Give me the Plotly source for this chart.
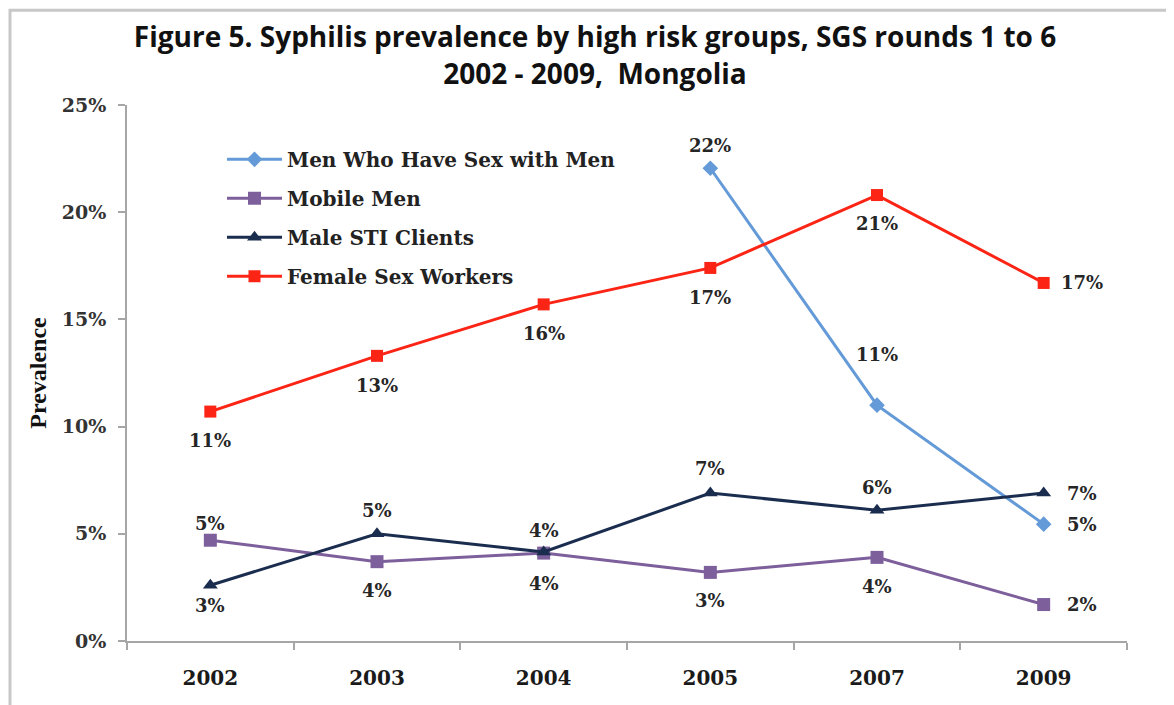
import plotly.graph_objects as go

years = ["2002", "2003", "2004", "2005", "2007", "2009"]

msm = [None, None, None, 0.2205, 0.110, 0.0545]
mobile = [0.047, 0.037, 0.041, 0.032, 0.039, 0.017]
sti = [0.026, 0.050, 0.0415, 0.069, 0.061, 0.069]
fsw = [0.107, 0.133, 0.157, 0.174, 0.208, 0.167]

series_names = ["Men Who Have Sex with Men", "Mobile Men", "Male STI Clients", "Female Sex Workers"]
series_values = [msm, mobile, sti, fsw]
colors = ["#649ad8", "#7d5f9c", "#1b2d4f", "#fb2415"]
symbols = ["diamond", "square", "triangle-up", "square"]
msizes = [12, 13, 13, 12]

# label offsets (xshift, yshift) in pixels per point (positive yshift = up)
offsets = [
    [None, None, None, (0, 23), (0, 51), (38, 0)],
    [(0, 17), (0, -29), (0, -30), (0, -28), (0, -29), (38, 0)],
    [(0, -20), (0, 23), (0, 22), (0, 25), (0, 23), (38, 0)],
    [(0, -29), (0, -30), (0, -29), (0, -30), (0, -28), (38, 0)],
]

serif = "DejaVu Serif"

fig = go.Figure()
for i, (name, vals) in enumerate(zip(series_names, series_values)):
    fig.add_trace(go.Scatter(
        x=years, y=vals, name=name, mode="lines+markers",
        line=dict(color=colors[i], width=3),
        marker=dict(symbol=symbols[i], size=msizes[i], color=colors[i]),
        legendgroup=f"g{i}", connectgaps=False,
    ))

annotations = []
for i, vals in enumerate(series_values):
    for j, v in enumerate(vals):
        if v is None:
            continue
        dx, dy = offsets[i][j]
        annotations.append(dict(
            x=j, y=v, xref="x", yref="y", text=f"{round(v*100):d}%",
            showarrow=False, xshift=dx, yshift=dy,
            font=dict(family=serif, size=18, color="#262626", weight="bold"),
        ))

fig.update_layout(
    width=1174, height=705,
    margin=dict(l=119, r=55, t=97, b=72),
    paper_bgcolor="white", plot_bgcolor="white",
    title=dict(
        text="Figure 5. Syphilis prevalence by high risk groups, SGS rounds 1 to 6<br>2002 - 2009,  Mongolia",
        x=0.5, xanchor="center", y=0.944, yanchor="top",
        font=dict(family="Open Sans", size=28, color="#111111", weight="bold"),
    ),
    xaxis=dict(
        type="category", showline=True, linecolor="#a6a6a6", linewidth=2,
        ticks="outside", tickson="boundaries", ticklen=7, tickcolor="#a6a6a6", tickwidth=2,
        showgrid=False, zeroline=False, ticklabelstandoff=18,
        tickfont=dict(family=serif, size=20, color="#1a1a1a", weight="bold"),
        range=[-0.5, 5.5],
    ),
    yaxis=dict(
        range=[0, 0.25], dtick=0.05, tickformat=".0%",
        showline=True, linecolor="#a6a6a6", linewidth=2,
        ticks="outside", ticklen=7, tickcolor="#a6a6a6", tickwidth=2,
        showgrid=False, zeroline=False, ticklabelstandoff=8,
        tickfont=dict(family=serif, size=19, color="#333333", weight="bold"),
        title=dict(text="Prevalence", standoff=8,
                   font=dict(family="Liberation Serif", size=24, color="#111111", weight="bold")),
    ),
    legend=dict(
        x=0.095, y=0.935, xanchor="left", yanchor="top",
        traceorder="grouped", tracegroupgap=10, itemwidth=55,
        font=dict(family=serif, size=20, color="#222222", weight="bold"),
        bgcolor="rgba(0,0,0,0)",
    ),
    annotations=annotations,
    shapes=[dict(
        type="rect", xref="paper", yref="paper",
        x0=-0.117, x1=1.1, y0=-0.2, y1=1.177,
        line=dict(color="#c8c8c8", width=3), fillcolor="rgba(0,0,0,0)", layer="below",
    )],
)

fig.write_html("out.html")
